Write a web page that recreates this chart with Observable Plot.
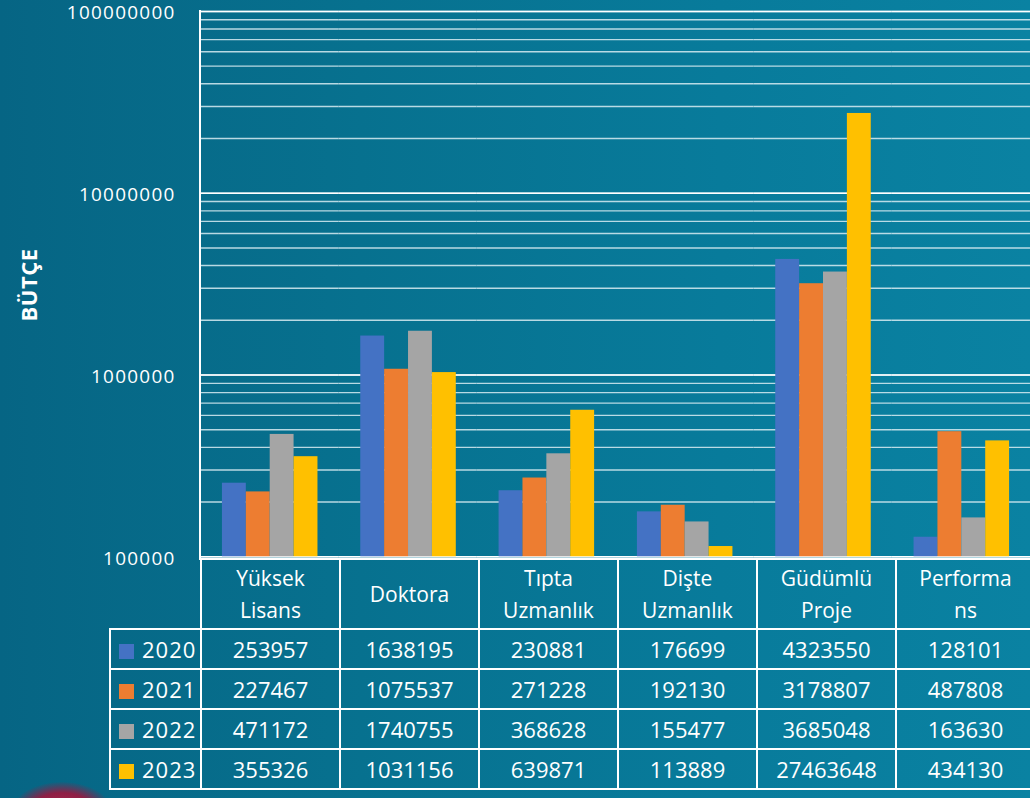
<!DOCTYPE html>
<html><head><meta charset="utf-8">
<script src="https://cdn.jsdelivr.net/npm/d3@7"></script>
<script src="https://cdn.jsdelivr.net/npm/@observablehq/plot@0.6"></script>
<style>
html,body{margin:0;padding:0;}
body{width:1030px;height:798px;overflow:hidden;}
#wrap{position:relative;width:1030px;height:798px;overflow:hidden;
  background:linear-gradient(90deg,#066584 0%,#07718f 35%,#087b9b 70%,#0a82a2 100%);
  font-family:"Open Sans",sans-serif;color:#fff;}
#chart{position:absolute;left:0;top:0;}
#ylab{position:absolute;left:28px;top:285px;transform:translate(-50%,-50%) rotate(-90deg);
  font-weight:bold;font-size:22px;white-space:nowrap;letter-spacing:0.5px;}
#axisline{position:absolute;left:199px;top:10px;width:2px;height:550px;background:#fff;}
#tbl{position:absolute;left:109px;top:558px;border-collapse:collapse;table-layout:fixed;}
#tbl td{border:2px solid #fff;text-align:center;padding:0;color:#fff;}
#tbl td.blank{border:none;border-right:2px solid #fff;}
#tbl tr.head td{height:68px;font-size:21px;line-height:32px;}
#tbl tr.val td{height:38px;font-size:22px;}
#tbl td.yr{text-align:left;padding-left:8px;font-size:20px;letter-spacing:1px;}
.sw{display:inline-block;width:15px;height:15px;margin-right:8px;vertical-align:-1px;}
#logo{position:absolute;left:12px;top:782px;width:100px;height:60px;border-radius:50%;
  background:radial-gradient(ellipse at center,#b0284f 0%,#8e1f45 45%,rgba(8,100,130,0) 72%);}
</style></head>
<body><div id="wrap"><div id="logo"></div><div id="chart"></div><div id="axisline"></div><div id="ylab">BÜTÇE</div></div>
<script>
const categories = ["Yüksek Lisans","Doktora","Tıpta Uzmanlık","Dişte Uzmanlık","Güdümlü Proje","Performans"];
const headerLabels = ["Yüksek\nLisans","Doktora","Tıpta\nUzmanlık","Dişte\nUzmanlık","Güdümlü\nProje","Performa\nns"];
const years = ["2020","2021","2022","2023"];
const v2020 = [253957,1638195,230881,176699,4323550,128101];
const v2021 = [227467,1075537,271228,192130,3178807,487808];
const v2022 = [471172,1740755,368628,155477,3685048,163630];
const v2023 = [355326,1031156,639871,113889,27463648,434130];
const colors = ["#4472C4","#ED7D31","#A5A5A5","#FFC000"];
const yTicks = [100000,1000000,10000000,100000000];
const yLabel = "BÜTÇE";

const series = [v2020,v2021,v2022,v2023];
const data = [];
categories.forEach((c,i)=>years.forEach((y,j)=>data.push({category:c,year:y,value:series[j][i]})));

const chart = Plot.plot({
  width:1035, height:560, marginTop:11, marginBottom:1, marginLeft:200, marginRight:0,
  style:{background:"transparent", color:"white", fontFamily:"Open Sans", fontSize:"19px", overflow:"visible"},
  fx:{domain:categories, padding:0, axis:null, label:null},
  x:{domain:years, paddingInner:0, paddingOuter:0.78, axis:null},
  y:{type:"log", domain:[1e5,1e8], axis:null},
  color:{domain:years, range:colors},
  marks:[
    Plot.gridY({stroke:"#d8ecf2", strokeOpacity:0.85, strokeWidth:1.4}),
    Plot.gridY(yTicks, {stroke:"white", strokeOpacity:1, strokeWidth:1.6}),
    Plot.barY(data, {fx:"category", x:"year", y1:100000, y2:"value", fill:"year"}),
    Plot.axisY(yTicks, {tickSize:0, tickPadding:25, tickFormat:d=>String(d), fontSize:19, label:null, fill:"white", dy:2})
  ]
});
chart.style.letterSpacing = "1.3px";
document.getElementById("chart").appendChild(chart);
document.getElementById("ylab").textContent = yLabel;

// table
const fx = chart.scale("fx");
const bw = (fx && fx.bandwidth) ? fx.bandwidth : 835/6;
const tbl = document.createElement("table");
tbl.id = "tbl";
const cg = document.createElement("colgroup");
[91, ...categories.map(()=>bw)].forEach(w=>{const c=document.createElement("col");c.style.width=w+"px";cg.appendChild(c);});
tbl.appendChild(cg);
tbl.style.width = (91 + bw*categories.length) + "px";
const hr = document.createElement("tr"); hr.className="head";
const b = document.createElement("td"); b.className="blank"; hr.appendChild(b);
headerLabels.forEach(h=>{const td=document.createElement("td");td.innerHTML=h.split("\n").join("<br>");hr.appendChild(td);});
tbl.appendChild(hr);
years.forEach((y,j)=>{
  const tr=document.createElement("tr"); tr.className="val";
  const td0=document.createElement("td"); td0.className="yr";
  td0.innerHTML=`<span class="sw" style="background:${colors[j]}"></span>${y}`;
  tr.appendChild(td0);
  series[j].forEach(v=>{const td=document.createElement("td");td.textContent=String(v);tr.appendChild(td);});
  tbl.appendChild(tr);
});
document.getElementById("wrap").appendChild(tbl);
</script>
</body></html>
